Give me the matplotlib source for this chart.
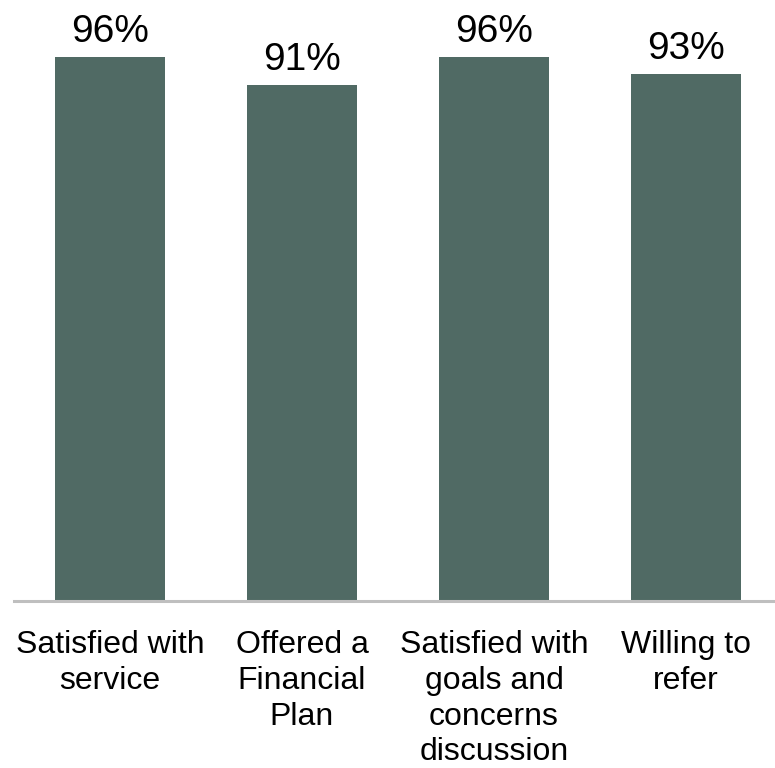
import matplotlib.pyplot as plt

# survey results
categories = ['Satisfied with\nservice', 'Offered a\nFinancial\nPlan',
              'Satisfied with\ngoals and\nconcerns\ndiscussion', 'Willing to\nrefer']
values = [96, 91, 96, 93]

bar_color = '#506A64'

plt.rcParams['font.family'] = ['Liberation Sans', 'DejaVu Sans']

fig = plt.figure(figsize=(7.75, 7.68), dpi=100)
ax = fig.add_axes([14 / 775, 1 - 601 / 768, 768 / 775, 601 / 768])

x = range(len(values))
bars = ax.bar(x, values, width=0.573, color=bar_color)

for rect, v in zip(bars, values):
    ax.annotate(f'{v}%', (rect.get_x() + rect.get_width() / 2, v),
                xytext=(0, 5), textcoords='offset points',
                ha='center', va='bottom', fontsize=28)

ax.set_xlim(-0.5, 3.5)
ax.set_ylim(0, 106)
ax.set_xticks(list(x))
ax.set_xticklabels(categories, fontsize=23, linespacing=1.25)
ax.tick_params(axis='x', length=0, pad=21)
ax.set_yticks([])

for side in ['top', 'left', 'right']:
    ax.spines[side].set_visible(False)
ax.spines['bottom'].set_color('#BFBFBF')
ax.spines['bottom'].set_linewidth(2.2)

fig.savefig('out.png', dpi=100)
